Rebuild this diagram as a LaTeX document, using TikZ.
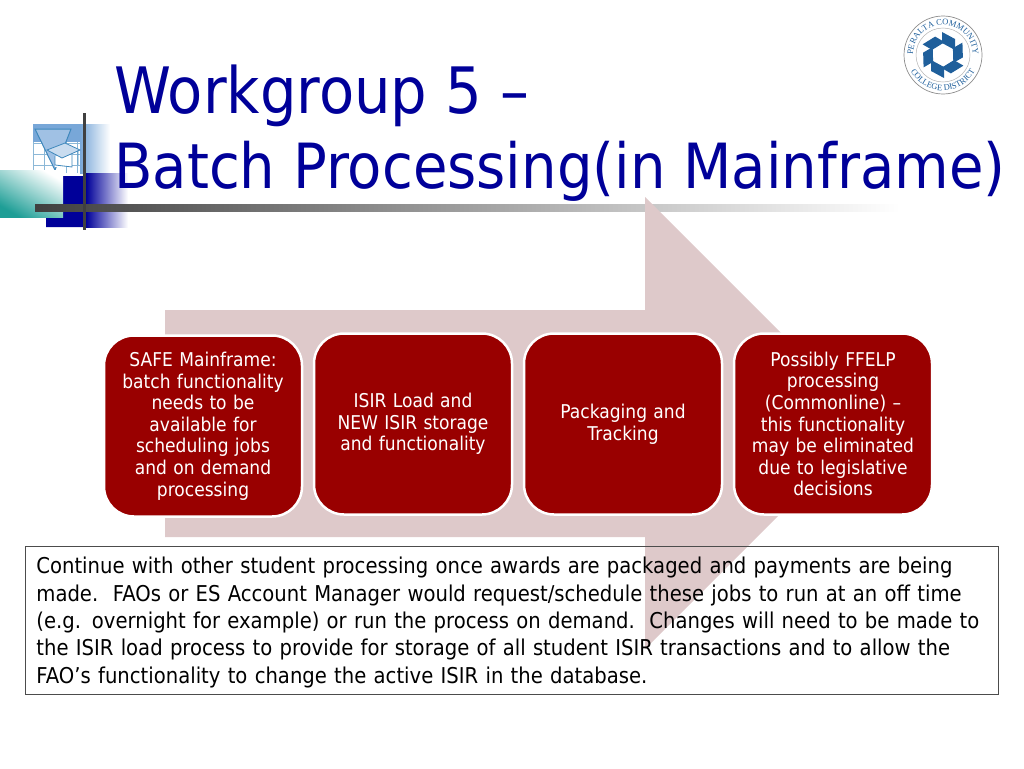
\documentclass[tikz,border=0pt]{standalone}
\usepackage{fontspec}
\setmainfont[FakeStretch=0.9]{DejaVu Sans}
\newfontfamily\sealfont{Liberation Serif}
\usetikzlibrary{positioning,shapes,arrows,decorations.text}
\definecolor{titleblue}{HTML}{000099}
\definecolor{boxred}{HTML}{990000}
\definecolor{arrowpink}{HTML}{DEC9CA}
\definecolor{sealblue}{HTML}{1F5F9B}
\definecolor{iconblue}{HTML}{78A7D8}
\definecolor{iconline}{HTML}{3F88BC}
\definecolor{iconteal}{HTML}{1E9E96}
\begin{document}
\begin{tikzpicture}[
          x=1pt,y=-1pt,
          node distance=9.5pt,
          stepbox/.style={draw=white,line width=2.5pt,fill=boxred,rounded corners=30pt,
            minimum width=198pt,minimum height=181pt,text width=172pt,inner sep=0pt,
            align=center,text=white,font=\fontsize{19}{21.6}\selectfont},
          titleline/.style={anchor=base west,inner sep=0pt,text=titleblue,font=\fontsize{64}{76}\selectfont},
          sealtext/.style={decorate,decoration={text along path,text align=center,
            text={|\sealfont\fontsize{8.5}{9}\selectfont\color{sealblue}|#1}}}
            ]
    \useasboundingbox (0,0) rectangle (1024,768);
    % ornament left of the title
    \shade[left color=iconblue,right color=white] (80,124) rectangle (110,173);
    \fill[iconblue] (33,124) rectangle (80,142);
    \draw[iconline!60] (33,142) grid[step=11pt] (80,173);
    \fill[iconblue!70] (35,129) -- (71,129) -- (55,170) -- cycle;
    \draw[iconline,line width=1pt] (35,129) -- (71,129) -- (55,170) -- cycle;
    \fill[white] (55,156) rectangle (72,167);
    \draw[iconline,fill=iconblue!40,line width=.8pt] (47,150) -- (65,143) -- (80,150) -- (62,158) -- cycle;
    \draw[iconline,line width=.8pt] (55,156) -- (55,165) -- (72,167) -- (72,155) (78,150) -- (78,165);
    \fill[titleblue] (63,176) rectangle (83,227) (46,217) rectangle (63,227);
    \shade[left color=titleblue,right color=white] (86,173) rectangle (128,227);
    \shade[left color=white,middle color=iconteal!55!gray!70,right color=iconteal,shading angle=-30] (0,170) rectangle (63,217);
    \shade[left color=black!75,right color=white] (35,204) rectangle (900,211);
    \fill[black!75] (83,113) rectangle (86,230);
    % title
    \node[titleline] (title1) at (114,113) {Workgroup 5 –};
    \node[titleline,font=\fontsize{62.3}{76}\selectfont] (title2) at (114,188) {Batch Processing(in Mainframe)};
    % seal
    \coordinate (seal) at (943,55);
    \draw[black!45,line width=.7pt] (seal) circle (39pt);
    \draw[black!30,line width=.5pt] (seal) circle (27pt);
    \foreach \ang in {0,60,...,300}
      \fill[sealblue,shift={(seal)},rotate=\ang] (-1,-23) -- (12,-16) -- (12,-5) -- (-1,-12) -- cycle;
    \path[sealtext={PERALTA COMMUNITY}] (913,55) arc[start angle=180,end angle=0,radius=30pt];
    \path[sealtext={COLLEGE DISTRICT}] (909,67) arc[start angle=200,end angle=340,radius=36pt];
    % arrow behind the boxes
    \fill[arrowpink] (165,310) -- (645,310) -- (645,197) -- (871,423) -- (645,649) -- (645,537) -- (165,537) -- cycle;
    % steps
    \node[stepbox] (safe) at (203,426) {SAFE Mainframe:\\batch functionality\\needs to be\\available for\\scheduling jobs\\and on demand\\processing};
    \node[stepbox,right=of safe,yshift=2pt] (isir) {ISIR Load and\\NEW ISIR storage\\and functionality};
    \node[stepbox,right=of isir] (pack) {Packaging and\\Tracking};
    \node[stepbox,right=of pack] (ffelp) {Possibly FFELP\\processing\\(Commonline) –\\this functionality\\may be eliminated\\due to legislative\\decisions};
    % note
    \node[draw=black!70,line width=.8pt,anchor=north west,minimum width=973pt,minimum height=148pt,
      inner xsep=11pt,inner ysep=0pt,align=left,text width=951pt,font=\fontsize{21.8}{27.4}\selectfont] (note) at (25,546)
      {\rule{0pt}{20.6pt}Continue with other student processing once awards are packaged and payments are being\\
       made.\ \ FAOs or ES Account Manager would request/schedule these jobs to run at an off time\\
       (e.g. overnight for example) or run the process on demand.\ \ Changes will need to be made to\\
       the ISIR load process to provide for storage of all student ISIR transactions and to allow the\\
       FAO’s functionality to change the active ISIR in the database.};
\end{tikzpicture}
\end{document}
